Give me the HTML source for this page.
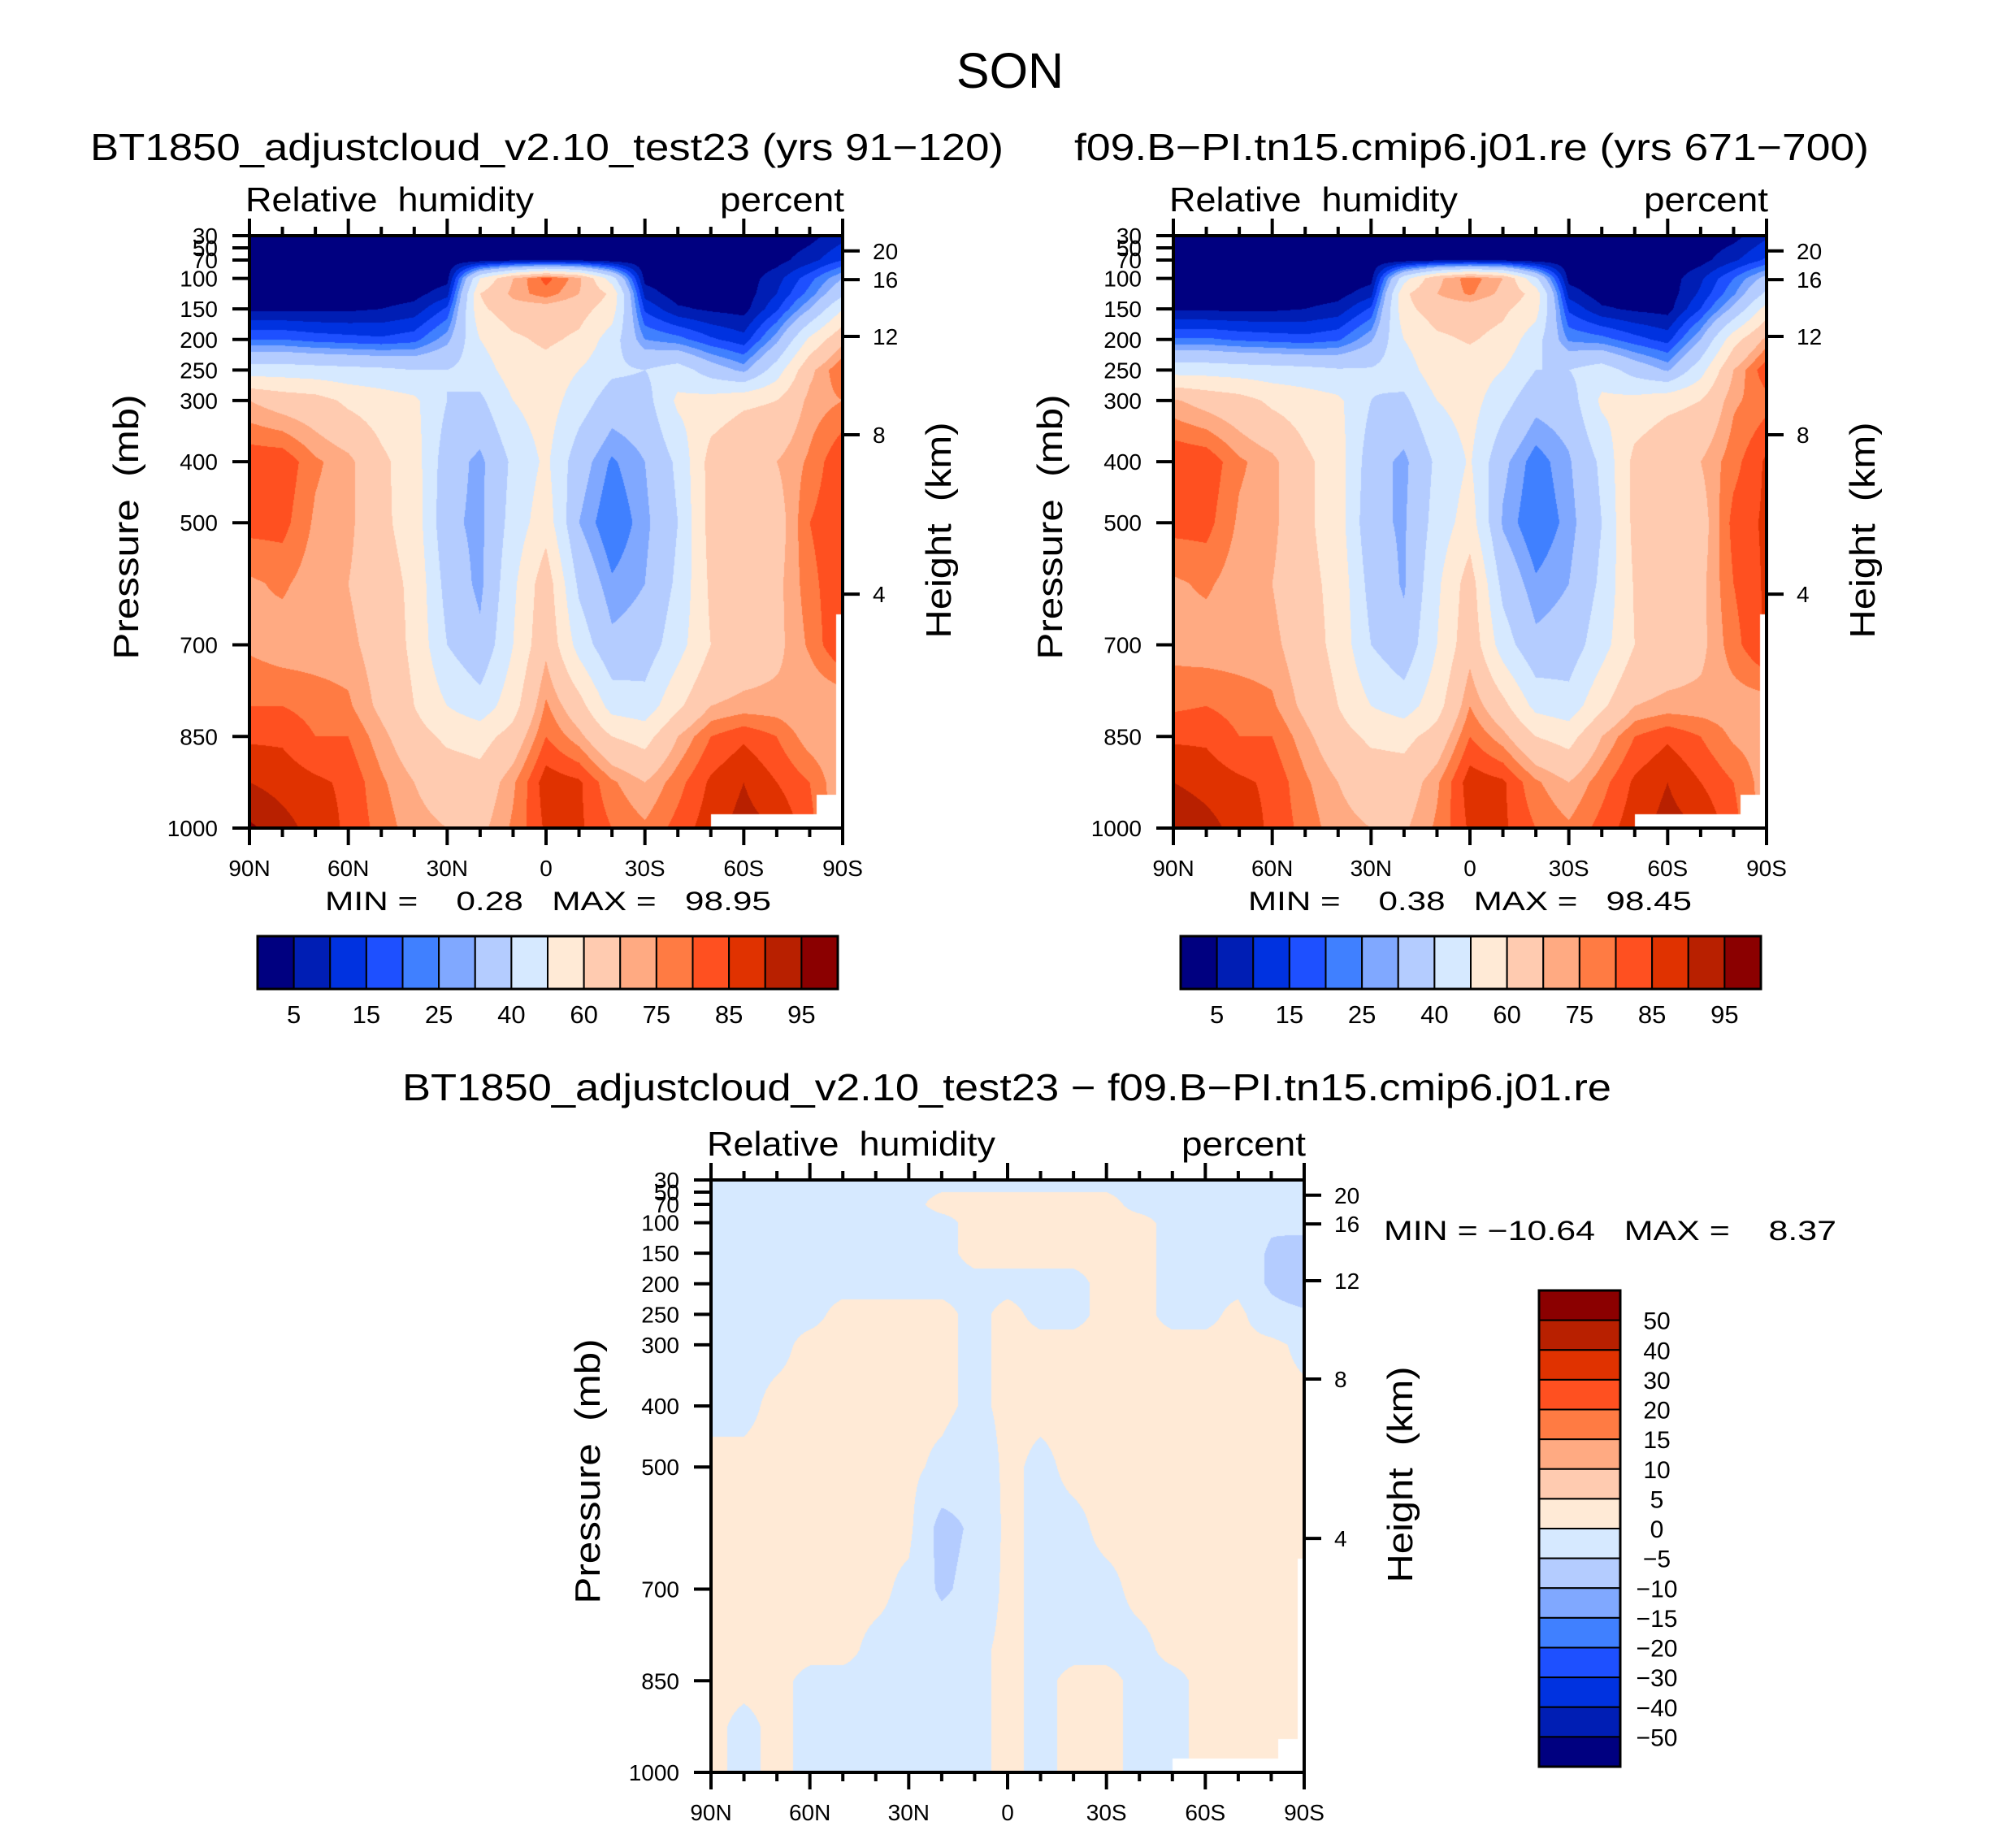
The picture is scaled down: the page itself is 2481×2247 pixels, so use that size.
<!DOCTYPE html>
<html><head><meta charset="utf-8"><style>
html,body{margin:0;padding:0;background:#fff;}
#root{position:relative;width:2481px;height:2247px;overflow:hidden;background:#fff;}
canvas{position:absolute;}
svg{position:absolute;left:0;top:0;}
text{font-family:"Liberation Sans",sans-serif;fill:#000;white-space:pre;}
</style></head><body>
<div id="root">
<canvas id="c1"></canvas>
<canvas id="c2"></canvas>
<canvas id="c3"></canvas>
<svg id="ov" width="2481" height="2247" xmlns="http://www.w3.org/2000/svg"></svg>
</div>
<script>
// ---------- data ----------
const lats = [90,80,70,60,50,40,30,20,10,0,-10,-20,-30,-40,-50,-60,-70,-80,-90];
const pressures = [30,70,100,125,150,200,250,300,400,500,600,700,800,850,925,1000];
const rhLevels = [5,10,15,20,25,30,40,50,60,70,75,80,85,90,95];
const rhTickLabels = ["5","15","25","40","60","75","85","95"];
const diffLevels = [-50,-40,-30,-20,-15,-10,-5,0,5,10,15,20,30,40,50];
const diffTickLabels = ["50","40","30","20","15","10","5","0","\u22125","\u221210","\u221215","\u221220","\u221230","\u221240","\u221250"];
const palette = ["#000080","#001eb4","#0032e0","#1e50ff","#4080ff","#80a8ff","#b4ccff","#d6e9ff","#ffead6","#ffcbb0","#ffaa82","#ff7b43","#ff5020","#e03200","#b82000","#8b0000"];
const pTicks = [30,50,70,100,150,200,250,300,400,500,700,850,1000];
const heightKm = [20,16,12,8,4];
const heightP = [55,102,195,356,617];
const latTicks = ["90N","60N","30N","0","30S","60S","90S"];

const rhControl = [
[1,1,1,1,1,1,1,1,1,1,1,1,1,1,1,1,1,3,8],
[1,1,1,1,1,1,1,2,4,4,4,2,1,1,1,1,3,8,15],
[1,1,1,1,1,1,3,50,70,82,72,45,3,1,1,2,8,18,30],
[2,2,2,2,2,3,8,60,72,78,70,58,8,2,2,2,10,22,38],
[4,4,4,4,5,7,16,58,66,66,64,55,14,6,4,3,14,30,50],
[20,20,18,17,16,18,28,50,58,62,58,45,25,22,16,12,28,52,68],
[45,45,44,43,42,40,40,45,55,56,50,42,40,45,35,28,45,68,80],
[70,66,64,58,55,52,40,38,50,55,45,35,36,52,54,58,60,72,75],
[84,84,76,72,62,55,34,28,42,52,34,24,30,42,64,70,70,76,85],
[82,82,74,72,62,56,32,28,44,56,30,20,28,40,64,68,66,80,85],
[74,76,72,70,64,58,36,28,48,66,38,26,30,42,62,66,68,78,85],
[74,72,72,72,66,58,40,32,50,68,46,32,34,46,60,64,68,76,86],
[80,80,78,76,68,60,50,44,56,76,64,46,44,58,70,72,72,70,70],
[84,84,80,80,72,64,58,56,64,80,72,60,56,70,80,84,80,72,70],
[90,88,86,84,76,70,66,64,74,88,86,76,70,78,86,90,85,80,70],
[96,92,88,84,78,72,70,68,76,86,86,80,76,82,88,92,90,82,70]];

const rhReference = [
[1,1,1,1,1,1,1,1,1,1,1,1,1,1,1,1,1,3,9],
[1,1,1,1,1,1,1,2,4,4,4,2,1,1,1,1,3,9,16],
[1,1,1,1,1,1,3,46,68,78,70,42,3,1,1,2,9,20,33],
[2,2,2,2,2,3,8,58,70,76,68,56,8,2,2,2,11,24,42],
[4,4,4,4,5,7,16,57,65,65,62,54,14,6,4,3,15,32,54],
[21,21,19,18,17,19,29,50,58,61,57,44,24,22,17,13,30,56,72],
[46,46,45,44,43,41,41,45,56,55,50,40,40,45,36,29,46,70,84],
[71,67,64,58,55,52,40,38,50,54,44,33,35,52,53,57,60,74,78],
[85,84,76,72,62,55,34,28,42,51,32,22,29,42,63,69,70,78,86],
[82,82,74,72,62,55,32,29,44,55,29,20,27,40,63,68,66,82,86],
[74,76,72,70,63,57,36,29,48,65,37,26,30,42,61,66,68,80,86],
[73,72,72,72,65,57,40,33,50,67,45,32,34,46,60,64,68,78,86],
[79,80,78,76,68,60,50,45,56,75,63,47,44,58,70,72,72,72,72],
[84,84,80,80,72,64,58,57,64,80,72,60,56,70,80,84,80,74,72],
[90,88,86,84,76,70,66,65,74,88,86,76,70,78,86,90,85,80,72],
[95,92,88,84,78,72,70,69,76,86,86,80,76,82,88,92,90,82,72]];

const rhDiff = [
[-1,-1,-1,-1,-1,-1,-1,-1,-1,-1,-1,-1,-1,-1,-1,-1,-1,-1,-1],
[-1,-1,-1,-1,-1,-1,-1,1,1,1,1,1,1,-1,-1,-1,-1,-1,-1],
[-1,-1,-1,-1,-1,-1,-1,-1,1,1,1,1,1,1,-1,-1,-1,-4,-1],
[-1,-1,-1,-1,-1,-1,-1,-1,1,1,1,1,1,1,-1,-1,-1,-5,-6],
[-1,-1,-1,-1,-1,-1,-1,-1,1,1,1,1,1,1,-1,-1,-1,-6,-8],
[-5,-2,-1,-1,-1,-1,-1,-1,-1,-1,-1,-1,1,1,-1,-1,-1,-6,-9],
[-1,-1,-1,-1,1,1,1,1,-1,1,-1,-1,1,1,-1,-1,1,-3,-4],
[-1,-1,-1,1,1,1,1,1,-1,1,1,1,1,1,1,1,1,1,-1],
[-1,-1,1,1,1,1,1,1,-1,1,1,1,1,1,1,1,1,1,1],
[1,1,1,1,1,1,1,-1,-3,1,-1,1,1,1,1,1,1,1,1],
[1,1,1,1,1,1,1,-7,-4,1,-1,-1,1,1,1,1,1,1,1],
[1,1,1,1,1,1,-1,-6,-3,1,-1,-1,-1,1,1,1,1,1,1],
[1,1,1,1,1,-1,-1,-1,-1,1,-1,-1,-1,-1,1,1,1,1,1],
[1,1,1,-1,-1,-1,-1,-1,-1,1,-1,1,1,-1,-1,1,1,1,1],
[1,-1,1,-1,-1,-1,-1,-1,-1,1,-1,1,1,-1,-1,1,1,1,1],
[1,-1,1,-1,-1,-1,-1,-1,-1,1,-1,1,1,-1,-1,1,1,1,1]];

// missing-data regions: [lat from, lat to, p from, p to]
const missingRegions = [[-50,-82,977,1000],[-82,-90,945,1000],[-88,-90,650,1000]];

// ---------- layout ----------
const panels = [
 {id:'c1', x:307, y:290, w:730, h:729, data:rhControl, levels:rhLevels},
 {id:'c2', x:1444, y:290, w:730, h:729, data:rhReference, levels:rhLevels},
 {id:'c3', x:875, y:1452, w:730, h:729, data:rhDiff, levels:diffLevels}
];
const NS='http://www.w3.org/2000/svg';
const ov=document.getElementById('ov');
function mk(tag, attrs, parent){const e=document.createElementNS(NS,tag);for(const k in attrs)e.setAttribute(k,attrs[k]);(parent||ov).appendChild(e);return e;}
function txt(s, attrs, parent){const e=mk('text',attrs,parent);e.textContent=s;return e;}

function xScale(P,lat){return P.x+(90-lat)/180*P.w;}
function yScale(P,p){return P.y+(p-30)/970*P.h;}
function sample(data,lat,p){
  let li=(90-lat)/10; li=Math.max(0,Math.min(lats.length-1.0001,li));
  const i=Math.floor(li), fx=li-i;
  let j=0; while(j<pressures.length-2 && p>pressures[j+1]) j++;
  let fy=(p-pressures[j])/(pressures[j+1]-pressures[j]); fy=Math.max(0,Math.min(1,fy));
  const a=data[j][i],b=data[j][i+1],c=data[j+1][i],d=data[j+1][i+1];
  return (a*(1-fx)+b*fx)*(1-fy)+(c*(1-fx)+d*fx)*fy;
}
function levelIndex(v,levels){let k=0;while(k<levels.length&&v>=levels[k])k++;return k;}
function hex(c){return [parseInt(c.slice(1,3),16),parseInt(c.slice(3,5),16),parseInt(c.slice(5,7),16)];}
const pal=palette.map(hex);

panels.forEach(P=>{
  const cv=document.getElementById(P.id);
  cv.width=P.w; cv.height=P.h; cv.style.left=P.x+'px'; cv.style.top=P.y+'px';
  const ctx=cv.getContext('2d'); const im=ctx.createImageData(P.w,P.h);
  for(let py=0;py<P.h;py++){
    const p=30+(py+0.5)/P.h*970;
    for(let px=0;px<P.w;px++){
      const lat=90-(px+0.5)/P.w*180;
      let col=pal[levelIndex(sample(P.data,lat,p),P.levels)];
      for(const m of missingRegions){ if(lat<=m[0]&&lat>=m[1]&&p>=m[2]&&p<=m[3]) col=[255,255,255]; }
      const o=(py*P.w+px)*4; im.data[o]=col[0];im.data[o+1]=col[1];im.data[o+2]=col[2];im.data[o+3]=255;
    }
  }
  ctx.putImageData(im,0,0);
});

// ---------- axes ----------
panels.forEach((P,pi)=>{
  const g=mk('g',{});
  
  
  const fr=mk('rect',{x:P.x,y:P.y,width:P.w,height:P.h,fill:'none',stroke:'#000','stroke-width':4},g);
  
  
  pTicks.forEach(p=>{
    const y=yScale(P,p);
    mk('line',{x1:P.x-21,x2:P.x,y1:y,y2:y,stroke:'#000','stroke-width':4},g);
    const t=txt(String(p),{x:P.x-39,y:y+10,'font-size':28,'text-anchor':'end'},g);
    
    
  });
  heightKm.forEach((z,k)=>{
    const y=yScale(P,heightP[k]);
    mk('line',{x1:P.x+P.w,x2:P.x+P.w+21,y1:y,y2:y,stroke:'#000','stroke-width':4},g);
    const t=txt(String(z),{x:P.x+P.w+37,y:y+10,'font-size':28},g);
    
    
  });
  for(let lat=90;lat>=-90;lat-=10){
    const x=xScale(P,lat); const major=(lat%30===0); const L=major?21:11;
    mk('line',{x1:x,x2:x,y1:P.y-L,y2:P.y,stroke:'#000','stroke-width':4},g);
    mk('line',{x1:x,x2:x,y1:P.y+P.h,y2:P.y+P.h+L,stroke:'#000','stroke-width':4},g);
  }
  latTicks.forEach((s,k)=>{
    const t=txt(s,{x:xScale(P,90-k*30),y:P.y+P.h+59,'font-size':28,'text-anchor':'middle'},g);
    
    
  });
  const cy=P.y+P.h/2-6;
  const yt=txt('Pressure  (mb)',{x:0,y:0,'font-size':44,'text-anchor':'middle',textLength:326,lengthAdjust:'spacingAndGlyphs',transform:'translate('+(P.x-137)+','+cy+') rotate(-90)'},g);
  
  
  const ht=txt('Height  (km)',{x:0,y:0,'font-size':44,'text-anchor':'middle',textLength:266,lengthAdjust:'spacingAndGlyphs',transform:'translate('+(P.x+P.w+133)+','+(cy+4)+') rotate(-90)'},g);
  
  
  const vn=txt('Relative  humidity',{x:P.x-5,y:P.y-30,'font-size':42,textLength:355,lengthAdjust:'spacingAndGlyphs'},g);
  
  
  const un=txt('percent',{x:P.x+P.w+2,y:P.y-30,'font-size':42,'text-anchor':'end',textLength:153,lengthAdjust:'spacingAndGlyphs'},g);
  
  
});

// ---------- titles ----------
let t;
t=txt('SON',{x:1243,y:108,'font-size':61,'text-anchor':'middle'});


t=txt('BT1850_adjustcloud_v2.10_test23 (yrs 91\u2212120)',{x:111,y:197,'font-size':46,textLength:1124,lengthAdjust:'spacingAndGlyphs'});


t=txt('f09.B\u2212PI.tn15.cmip6.j01.re (yrs 671\u2212700)',{x:1322,y:197,'font-size':46,textLength:978,lengthAdjust:'spacingAndGlyphs'});


t=txt('BT1850_adjustcloud_v2.10_test23 \u2212 f09.B\u2212PI.tn15.cmip6.j01.re',{x:495,y:1354,'font-size':46,textLength:1488,lengthAdjust:'spacingAndGlyphs'});


t=txt('MIN =    0.28   MAX =   98.95',{x:400,y:1120,'font-size':32,textLength:549,lengthAdjust:'spacingAndGlyphs'});


t=txt('MIN =    0.38   MAX =   98.45',{x:1536,y:1120,'font-size':32,textLength:546,lengthAdjust:'spacingAndGlyphs'});


t=txt('MIN = \u221210.64   MAX =    8.37',{x:1703,y:1526,'font-size':34,textLength:557,lengthAdjust:'spacingAndGlyphs'});



// ---------- horizontal colorbars ----------
[317,1453].forEach((cx,ci)=>{
  const g=mk('g',{});
  
  
  const cw=714/16, cy=1152, ch=65;
  palette.forEach((c,i)=>{
    const r=mk('rect',{x:cx+i*cw,y:cy,width:cw,height:ch,fill:c,stroke:'#000','stroke-width':2},g);
    
    
  });
  mk('rect',{x:cx,y:cy,width:714,height:ch,fill:'none',stroke:'#000','stroke-width':3},g);
  rhTickLabels.forEach((s,k)=>{
    const l=txt(s,{x:cx+(2*k+1)*cw,y:1259,'font-size':31,'text-anchor':'middle'},g);
    
    
  });
});

// ---------- vertical colorbar ----------
(function(){
  const g=mk('g',{});
  
  
  const x0=1894,y0=1588,bw=100,bh=586/16;
  for(let i=0;i<16;i++){
    const r=mk('rect',{x:x0,y:y0+i*bh,width:bw,height:bh,fill:palette[15-i],stroke:'#000','stroke-width':2},g);
    
    
  }
  mk('rect',{x:x0,y:y0,width:bw,height:586,fill:'none',stroke:'#000','stroke-width':3},g);
  diffTickLabels.forEach((s,k)=>{
    const l=txt(s,{x:2039,y:y0+(k+1)*bh+11,'font-size':30,'text-anchor':'middle'},g);
    
    
  });
})();
</script>
</body></html>
